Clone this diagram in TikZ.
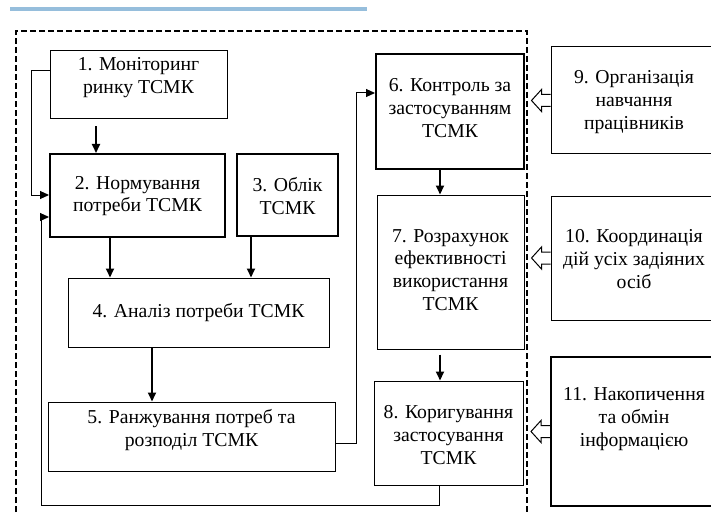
\documentclass[tikz,border=0pt]{standalone}
\usepackage{fontspec}
\setmainfont{Liberation Serif}
\usetikzlibrary{arrows.meta}
\begin{document}
\begin{tikzpicture}[x=1pt,y=-1pt,
  thinbox/.style={draw, line width=1pt, inner sep=0pt},
  thickbox/.style={draw, line width=2pt, inner sep=0pt},
  txt/.style={align=center, inner sep=0pt, font=\fontsize{19.7}{22.8}\selectfont},
  arr/.style={line width=1pt, -{Triangle[length=9pt,width=8pt]}},
  arrthick/.style={line width=2pt, -{Triangle[length=9pt,width=8pt]}},
  hollow/.style={draw, line width=1pt, line join=miter},
  dashline/.style={line width=1.8pt, dash pattern=on 6pt off 3pt}
]
\useasboundingbox (0,0) rectangle (711,513);
\clip (0,0) rectangle (711,513);
% top blue bar
\fill[fill={rgb,255:red,150;green,190;blue,220}] (10,7.5) rectangle (367,11.5);
% dashed frame
\draw[dashline] (16,530) |- (527,31) -- (527,530);
% boxes
\node[thinbox, minimum width=177, minimum height=68] (b1) at (138.5,85) {};
\node[txt] (t1) at (138.5,78) {1. Моніторинг\\ринку ТСМК};
\node[thickbox, minimum width=175, minimum height=83] (b2) at (137.5,195.5) {};
\node[txt] (t2) at (137.5,196) {2. Нормування\\потреби ТСМК};
\node[thickbox, minimum width=101, minimum height=82] (b3) at (287.5,195) {};
\node[txt] (t3) at (287.5,196) {3. Облік\\ТСМК};
\node[thinbox, minimum width=261, minimum height=69] (b4) at (198.5,312.5) {};
\node[txt] (t4) at (198.5,312.5) {4. Аналіз потреби ТСМК};
\node[thinbox, minimum width=287, minimum height=69] (b5) at (191.5,436.5) {};
\node[txt] (t5) at (191.5,430) {5. Ранжування потреб та\\розподіл ТСМК};
\node[thickbox, minimum width=148, minimum height=115] (b6) at (450,111.5) {};
\node[txt] (t6) at (450,108) {6. Контроль за\\застосуванням\\ТСМК};
\node[thinbox, minimum width=147, minimum height=154] (b7) at (450.5,272) {};
\node[txt] (t7) at (450.5,270) {7. Розрахунок\\ефективності\\використання\\ТСМК};
\node[thinbox, minimum width=149, minimum height=104] (b8) at (448.5,433) {};
\node[txt] (t8) at (448.5,435) {8. Коригування\\застосування\\ТСМК};
\node[thinbox, minimum width=166, minimum height=107] (b9) at (634,100.5) {};
\node[txt] (t9) at (634,102) {9. Організація\\навчання\\працівників};
\node[thinbox, minimum width=166, minimum height=124] (b10) at (634,258) {};
\node[txt] (t10) at (634,259) {10. Координація\\дій усіх задіяних\\осіб};
\node[thickbox, minimum width=166, minimum height=149] (b11) at (634,431.5) {};
\node[txt] (t11) at (634,419) {11. Накопичення\\та обмін\\інформацією};
% connectors
\draw[arrthick, shorten <=7pt] ([xshift=-42.5pt]b1.south) -- ([xshift=-41.5pt]b2.north);
\draw[arr] ([yshift=14pt]b1.west) -- ++(-18,0) |- ([yshift=0.5pt]b2.west);
\coordinate (c1) at (41,505);
\draw[arr] ([xshift=-9.5pt]b8.south) |- (c1) |- ([yshift=-21.5pt]b2.west);
\draw[arrthick] ([xshift=-27.5pt]b2.south) -- ([xshift=-88.5pt]b4.north);
\draw[arrthick] ([xshift=-36.5pt]b3.south) -- ([xshift=52.5pt]b4.north);
\draw[arrthick] ([xshift=-46.5pt]b4.south) -- ([xshift=-39.5pt]b5.north);
\draw[arr] ([yshift=-6.5pt]b5.east) -- ++(21,0) |- ([yshift=18.5pt]b6.west);
\draw[arrthick] ([xshift=-10pt]b6.south) -- ([xshift=-10.5pt]b7.north);
\draw[arrthick, shorten <=5pt] ([xshift=-10.5pt]b7.south) -- ([xshift=-8.5pt]b8.north);
% hollow arrows
\draw[hollow] (b9.west) ++(0,-6) -- ++(-9,0) -- ++(0,-5) -- ++(-10,11) -- ++(10,11) -- ++(0,-5) -- ++(9,0);
\draw[hollow] (b10.west) ++(0,-6) -- ++(-9,0) -- ++(0,-5) -- ++(-10,11) -- ++(10,11) -- ++(0,-5) -- ++(9,0);
\draw[hollow] (b11.west) ++(0,-6) -- ++(-9,0) -- ++(0,-5) -- ++(-10,11) -- ++(10,11) -- ++(0,-5) -- ++(9,0);
\end{tikzpicture}
\end{document}
